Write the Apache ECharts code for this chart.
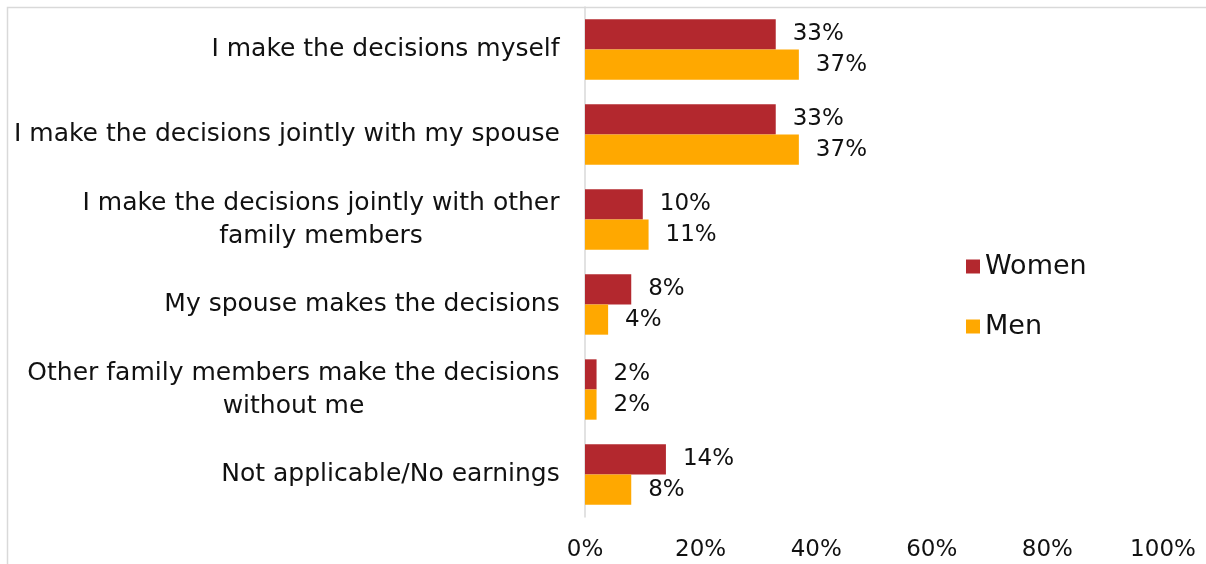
<!DOCTYPE html>
<html>
<head>
<meta charset="utf-8">
<script src="https://cdn.jsdelivr.net/npm/echarts@6/dist/echarts.min.js"></script>
<style>
  html, body { margin: 0; padding: 0; background: #ffffff; }
  #chart { width: 1206px; height: 564px; }
</style>
</head>
<body>
<div id="chart"></div>
<script>
// Who decides how personal earnings are used, by respondent sex (%)
const categories = [
  'I make the decisions myself',
  'I make the decisions jointly with my spouse',
  'I make the decisions jointly with other\nfamily members',
  'My spouse makes the decisions',
  'Other family members make the decisions\nwithout me',
  'Not applicable/No earnings'
];
const women = [33, 33, 10, 8, 2, 14];
const men = [37, 37, 11, 4, 2, 8];
const seriesNames = ['Women', 'Men'];
const xTicks = [0, 20, 40, 60, 80, 100];

const FONT_FAMILY = '"DejaVu Sans", sans-serif';
const FONT_SIZE = 23;
const CAT_FONT_SIZE = 25;
const LEGEND_FONT_SIZE = 27;
const TEXT_COLOR = '#111111';
const COLORS = ['#B3282E', '#FFA800'];

// Wrapped category names are centred line by line inside their own block,
// so each block gets a rich style as wide as its longest line.
const measureCtx = document.createElement('canvas').getContext('2d');
measureCtx.font = CAT_FONT_SIZE + 'px ' + FONT_FAMILY;
const rich = {};
categories.forEach((name, i) => {
  const w = Math.max(...name.split('\n').map(l => measureCtx.measureText(l).width));
  rich['c' + i] = {
    width: Math.ceil(w),
    align: 'center',
    fontSize: CAT_FONT_SIZE,
    fontFamily: FONT_FAMILY,
    color: TEXT_COLOR,
    lineHeight: 33
  };
});

const chart = echarts.init(document.getElementById('chart'), null, { renderer: 'canvas' });

const barLabel = {
  show: true,
  position: 'right',
  distance: 17,
  formatter: p => p.value + '%',
  fontSize: FONT_SIZE,
  fontFamily: FONT_FAMILY,
  color: TEXT_COLOR
};

chart.setOption({
  animation: false,
  backgroundColor: '#ffffff',
  textStyle: { fontFamily: FONT_FAMILY },
  graphic: [{
    type: 'rect',
    shape: { x: 7.5, y: 7.5, width: 1220, height: 580 },
    style: { fill: 'none', stroke: '#D9D9D9', lineWidth: 1.5 },
    silent: true,
    z: -1
  }],
  grid: { left: 585, right: 43, top: 7, bottom: 47, containLabel: false },
  legend: {
    data: seriesNames,
    orient: 'vertical',
    left: 961,
    top: 248,
    icon: 'rect',
    itemWidth: 14,
    itemHeight: 14,
    itemGap: 33,
    textStyle: { fontSize: LEGEND_FONT_SIZE, fontFamily: FONT_FAMILY, color: TEXT_COLOR, lineHeight: 27 }
  },
  xAxis: {
    type: 'value',
    min: xTicks[0],
    max: xTicks[xTicks.length - 1],
    interval: xTicks[1] - xTicks[0],
    axisLine: { show: false },
    axisTick: { show: false },
    splitLine: { show: false },
    axisLabel: {
      formatter: v => v + '%',
      margin: 22,
      fontSize: FONT_SIZE,
      fontFamily: FONT_FAMILY,
      color: TEXT_COLOR
    }
  },
  yAxis: {
    type: 'category',
    inverse: true,
    data: categories,
    axisLine: { show: true, lineStyle: { color: '#D9D9D9', width: 1.5 } },
    axisTick: { show: false },
    axisLabel: {
      margin: 25,
      formatter: (v, i) => '{c' + i + '|' + v + '}',
      rich: rich
    }
  },
  series: [
    {
      name: seriesNames[0],
      type: 'bar',
      data: women,
      barGap: '0%',
      barCategoryGap: '29%',
      itemStyle: { color: COLORS[0] },
      label: barLabel
    },
    {
      name: seriesNames[1],
      type: 'bar',
      data: men,
      itemStyle: { color: COLORS[1] },
      label: barLabel
    }
  ]
});
</script>
</body>
</html>
